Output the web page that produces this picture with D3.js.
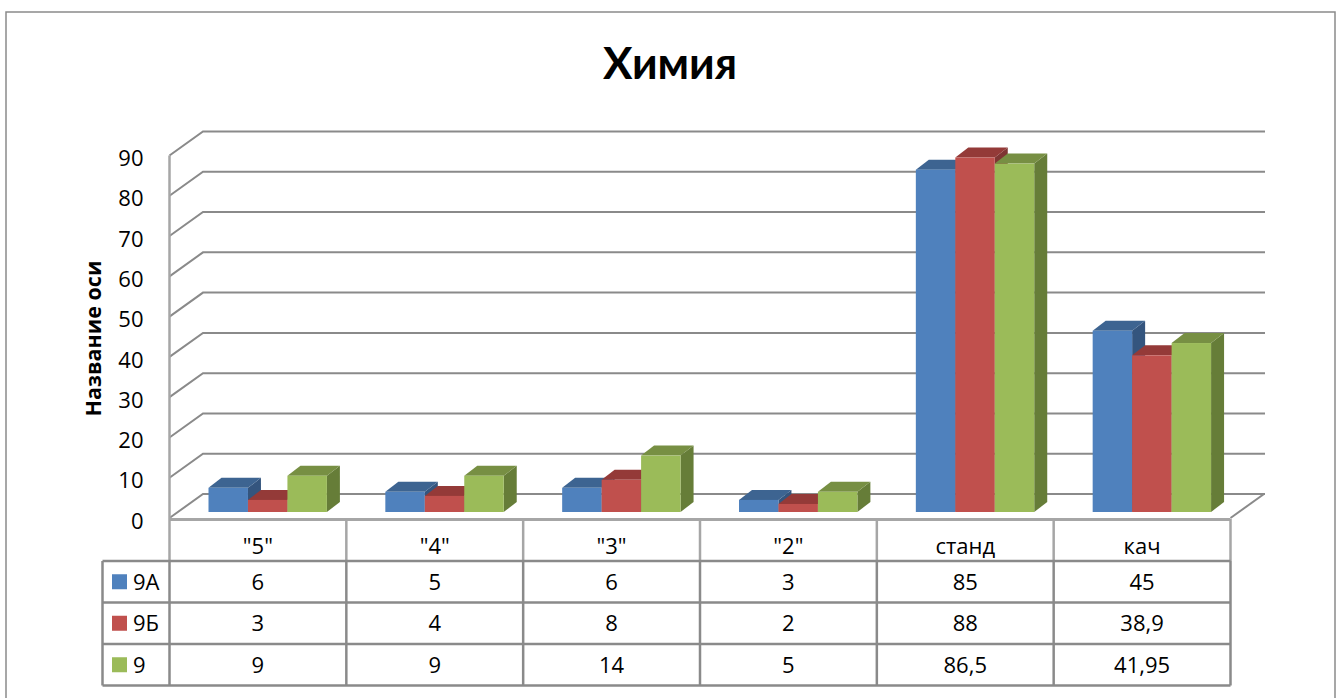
<!DOCTYPE html>
<html>
<head>
<meta charset="utf-8">
<script src="https://cdn.jsdelivr.net/npm/d3@7"></script>
<style>
body { margin: 0; background: #fff; }
svg { display: block; }
text { font-family: "Open Sans", sans-serif; fill: #000; }
.axis path, .axis line { display: none; }
</style>
</head>
<body>
<div id="graph"></div>
<script>
// data
var categories = ['"5"', '"4"', '"3"', '"2"', "станд", "кач"];
var seriesNames = ["9А", "9Б", "9"];
var values9A = [6, 5, 6, 3, 85, 45];
var values9B = [3, 4, 8, 2, 88, 38.9];
var values9 = [9, 9, 14, 5, 86.5, 41.95];
var yTicks = [0, 10, 20, 30, 40, 50, 60, 70, 80, 90];
var chartTitle = "Химия";
var yTitle = "Название оси";

var allValues = [values9A, values9B, values9];
var front = ["#4F81BD", "#C0504D", "#9BBB59"];
var tops = ["#3D6491", "#943A38", "#778F43"];
var sides = ["#34557E", "#7F3533", "#667D38"];
var lineCol = "#8A8A8A";
var lightCol = "#A6A6A6";

var width = 1340, height = 698;
var svg = d3.select("#graph").append("svg")
    .attr("width", width)
    .attr("height", height);

// outer frame, runs off the bottom of the picture
svg.append("rect")
    .attr("x", 6).attr("y", 12)
    .attr("width", 1329).attr("height", 720)
    .attr("fill", "#fff")
    .attr("stroke", lineCol)
    .attr("stroke-width", 1.5);

// Lato bold has the right width for the title, Open Sans runs too wide
svg.append("text")
    .attr("x", 670).attr("y", 79)
    .attr("text-anchor", "middle")
    .attr("font-size", 44)
    .attr("font-weight", "bold")
    .style("font-family", "Lato, sans-serif")
    .text(chartTitle);

// scales
var x = d3.scaleBand().domain(categories).range([169.5, 1230.5]);
var barW = 118.4;
var xInner = d3.scaleBand().domain(seriesNames).range([0, barW]);
var y = d3.scaleLinear().domain([0, 90]).range([518, 155.5]);

var wallDx = 33.5, wallDy = 24;   // depth of the 3d walls
var barDx = 13, barDy = 10;       // depth of a bar
var barLeft = 39, barLift = 6;    // bar position on the floor

// walls: grid lines go along the back and down the left side
var grid = svg.append("g")
    .attr("fill", "none")
    .attr("stroke", lineCol)
    .attr("stroke-width", 2);

grid.selectAll("path.grid")
    .data(yTicks)
    .enter().append("path")
    .attr("class", "grid")
    .attr("d", function (d) {
        return "M" + 169.5 + "," + y(d)
            + "L" + (169.5 + wallDx) + "," + (y(d) - wallDy)
            + "L" + (1230.5 + wallDx + 1) + "," + (y(d) - wallDy);
    });

// floor right edge
grid.append("path")
    .attr("d", "M1230.5,518L" + (1230.5 + wallDx) + "," + (518 - wallDy));

grid.append("line")
    .attr("x1", 169.5).attr("x2", 169.5)
    .attr("y1", y(90)).attr("y2", 518)
    .attr("stroke", lightCol)
    .attr("stroke-width", 2.5);

// bars
seriesNames.forEach(function (name, s) {
    var g = svg.append("g").attr("class", "series");
    var vals = allValues[s];
    var bars = g.selectAll("g.bar")
        .data(categories.map(function (c, i) { return { cat: c, value: vals[i] }; }))
        .enter().append("g")
        .attr("class", "bar")
        .attr("transform", function (d) {
            return "translate(" + (x(d.cat) + barLeft + xInner(name)) + "," + (y(d.value) - barLift) + ")";
        });
    var w = xInner.bandwidth();

    bars.append("path")
        .attr("fill", sides[s])
        .attr("d", function (d) {
            var h = y(0) - y(d.value);
            return "M" + w + ",0L" + (w + barDx) + "," + (-barDy)
                + "L" + (w + barDx) + "," + (h - barDy) + "L" + w + "," + h + "Z";
        });
    bars.append("path")
        .attr("fill", tops[s])
        .attr("d", "M0,0L" + barDx + "," + (-barDy) + "L" + (w + barDx) + "," + (-barDy) + "L" + w + ",0Z");
    bars.append("rect")
        .attr("fill", front[s])
        .attr("width", w)
        .attr("height", function (d) { return y(0) - y(d.value); });
});

// y axis
svg.append("g")
    .attr("class", "axis")
    .attr("transform", "translate(169.5,0)")
    .call(d3.axisLeft(y).tickValues(yTicks).tickSize(0).tickPadding(26))
    .selectAll("text")
    .attr("font-size", 22)
    .attr("dy", "0.46em");

svg.append("text")
    .attr("transform", "translate(101,338.5) rotate(-90)")
    .attr("text-anchor", "middle")
    .attr("font-size", 21.5)
    .attr("font-weight", "bold")
    .text(yTitle);

// data table
var rowY = d3.scaleBand().domain(seriesNames).range([561, 685.5]);
var table = svg.append("g")
    .attr("stroke", lineCol)
    .attr("stroke-width", 2.5)
    .attr("fill", "none");

// header part of the table is drawn lighter
table.append("line")
    .attr("x1", 169.5).attr("x2", 1230.5)
    .attr("y1", 519.5).attr("y2", 519.5)
    .attr("stroke", lightCol)
    .attr("stroke-width", 3);
table.append("line")
    .attr("x1", 169.5).attr("x2", 169.5)
    .attr("y1", 518).attr("y2", 561)
    .attr("stroke", lightCol);
table.append("line")
    .attr("x1", 169.5).attr("x2", 169.5)
    .attr("y1", 561).attr("y2", 685.5);

categories.forEach(function (c) {
    var cx = x(c) + x.bandwidth();
    table.append("line")
        .attr("x1", cx).attr("x2", cx)
        .attr("y1", 519).attr("y2", 561)
        .attr("stroke", lightCol);
    table.append("line")
        .attr("x1", cx).attr("x2", cx)
        .attr("y1", 561).attr("y2", 685.5);
});
table.selectAll("line.row")
    .data(seriesNames.concat("end"))
    .enter().append("line")
    .attr("class", "row")
    .attr("x1", 102.5).attr("x2", 1230.5)
    .attr("y1", function (d) { return d === "end" ? 685.5 : rowY(d); })
    .attr("y2", function (d) { return d === "end" ? 685.5 : rowY(d); });
table.append("line")
    .attr("x1", 102.5).attr("x2", 102.5)
    .attr("y1", 561).attr("y2", 685.5);

svg.append("g").selectAll("text")
    .data(categories)
    .enter().append("text")
    .attr("x", function (d) { return x(d) + x.bandwidth() / 2; })
    .attr("y", 546.5)
    .attr("dy", "0.36em")
    .attr("text-anchor", "middle")
    .attr("font-size", 22)
    .text(function (d) { return d; });

seriesNames.forEach(function (name, s) {
    var cy = rowY(name) + rowY.bandwidth() / 2;
    svg.append("rect")
        .attr("x", 112).attr("y", cy - 7.5)
        .attr("width", 15).attr("height", 15)
        .attr("fill", front[s]);
    svg.append("text")
        .attr("x", 133).attr("y", cy)
        .attr("dy", "0.36em")
        .attr("font-size", 22)
        .text(name);
    svg.append("g").selectAll("text")
        .data(allValues[s])
        .enter().append("text")
        .attr("x", function (d, i) { return x(categories[i]) + x.bandwidth() / 2; })
        .attr("y", cy)
        .attr("dy", "0.36em")
        .attr("text-anchor", "middle")
        .attr("font-size", 22)
        .text(function (d) { return String(d).replace(".", ","); });
});
</script>
</body>
</html>
